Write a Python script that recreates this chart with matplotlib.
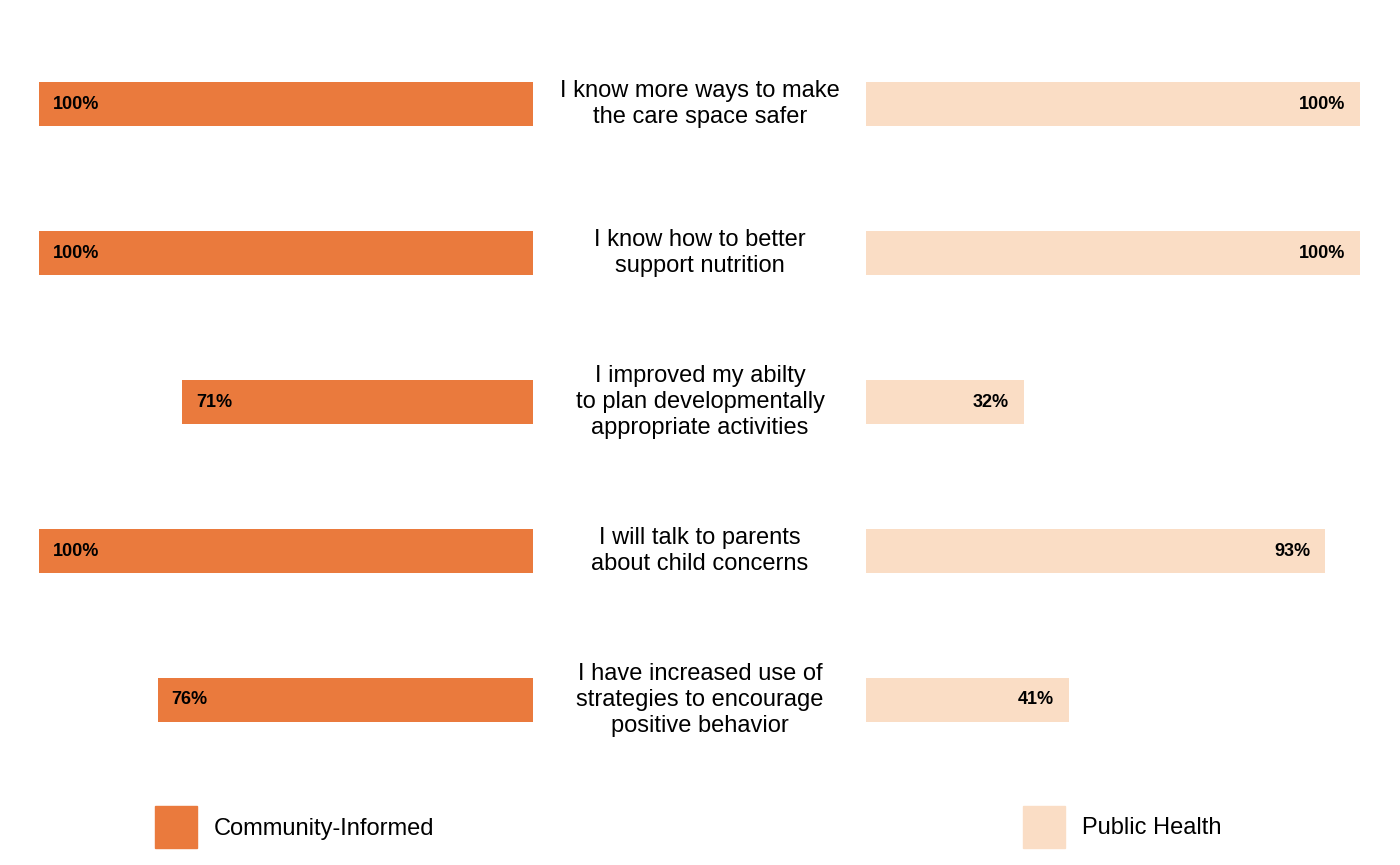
import matplotlib
matplotlib.use("Agg")
import matplotlib.pyplot as plt
import matplotlib.transforms as mtransforms
from matplotlib.patches import Rectangle

plt.rcParams['font.family'] = ['Liberation Sans', 'DejaVu Sans']

# data
statements = [
    "I know more ways to make\nthe care space safer",
    "I know how to better\nsupport nutrition",
    "I improved my abilty\nto plan developmentally\nappropriate activities",
    "I will talk to parents\nabout child concerns",
    "I have increased use of\nstrategies to encourage\npositive behavior",
]
community_informed = [1.00, 1.00, 0.71, 1.00, 0.76]
public_health = [1.00, 1.00, 0.32, 0.93, 0.41]
series_names = ["Community-Informed", "Public Health"]

dark_orange = "#EA7A3D"
light_orange = "#FADDC5"

W, H = 1400, 865
fig = plt.figure(figsize=(W / 100, H / 100), dpi=100)

bottom = (H - 774.5) / H
height = 745 / H
axL = fig.add_axes([39 / W, bottom, 494 / W, height])
axR = fig.add_axes([866 / W, bottom, 494 / W, height])

ypos = list(range(len(statements)))

axL.barh(ypos, community_informed, height=0.3, color=dark_orange)
axR.barh(ypos, public_health, height=0.3, color=light_orange)

for ax in (axL, axR):
    ax.set_ylim(len(statements) - 0.5, -0.5)
    ax.axis("off")
axL.set_xlim(1, 0)
axR.set_xlim(0, 1)

# value labels inside the outer end of each bar
for y, v in zip(ypos, community_informed):
    axL.annotate(f"{v:.0%}", (v, y), xytext=(14, 0), textcoords="offset pixels",
                 ha="left", va="center", fontsize=13, fontweight="bold")
for y, v in zip(ypos, public_health):
    axR.annotate(f"{v:.0%}", (v, y), xytext=(-15, 0), textcoords="offset pixels",
                 ha="right", va="center", fontsize=13, fontweight="bold")

# statements in the middle column
mid = mtransforms.blended_transform_factory(fig.transFigure, axL.transData)
for y, s in zip(ypos, statements):
    fig.text(0.5, y, s, transform=mid, ha="center", va="center",
             fontsize=17, linespacing=1.24)

# legend
for x0, name, c in [(155, series_names[0], dark_orange), (1023, series_names[1], light_orange)]:
    fig.patches.append(Rectangle((x0 / W, (H - 848) / H), 42 / W, 42 / H,
                                 transform=fig.transFigure, color=c))
    fig.text((x0 + 59) / W, (H - 828.5) / H, name, ha="left", va="center", fontsize=17)

fig.savefig("out.png", dpi=100)
